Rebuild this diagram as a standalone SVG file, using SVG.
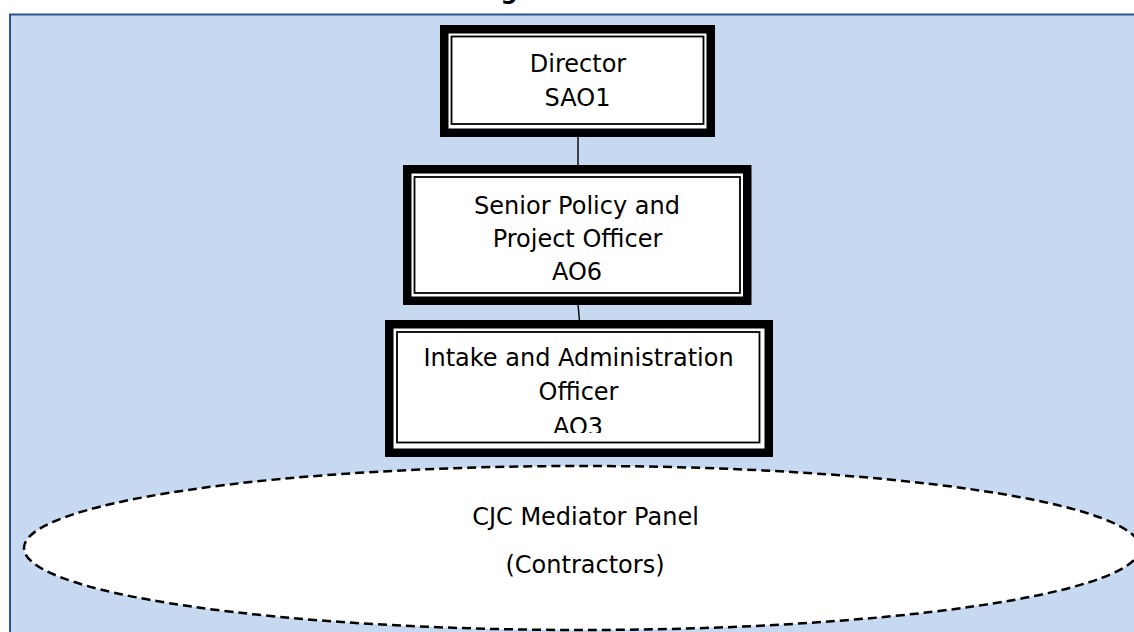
<svg xmlns="http://www.w3.org/2000/svg" width="1134" height="632" viewBox="0 0 1134 632">
  <style>
    .t { font-family: "DejaVu Sans", Verdana, sans-serif; font-size: 24px; fill: #000; text-anchor: middle; }
    .outer { fill: #fff; stroke: #000; stroke-width: 8.5; }
    .inner { fill: none; stroke: #000; stroke-width: 1.8; }
    .conn { stroke: #000; stroke-width: 1.4; fill: none; }
  </style>
  <defs>
    <clipPath id="clipIntake">
      <rect x="398" y="333" width="360" height="100"/>
    </clipPath>
  </defs>
  <rect width="1134" height="632" fill="#fff"/>
  <text x="509" y="-1" style="font-family: 'DejaVu Sans', Verdana, sans-serif; font-size: 24px; font-weight: bold; text-anchor: middle;">g</text>
  <g id="background">
    <rect x="10" y="14.5" width="1140" height="630" fill="#C6D9F1" stroke="#2F528F" stroke-width="2"/>
  </g>
  <g id="connectors">
    <line class="conn" x1="578" y1="136" x2="578" y2="166"/>
    <line class="conn" x1="578" y1="304" x2="579.5" y2="321"/>
  </g>
  <g id="panel">
    <ellipse cx="582" cy="548" rx="558" ry="82" fill="#fff" stroke="#000" stroke-width="2.5" stroke-dasharray="9 5"/>
    <text class="t" x="585.5" y="524.5">CJC Mediator Panel</text>
    <text class="t" x="585" y="573">(Contractors)</text>
  </g>
  <g id="director">
    <rect class="outer" x="444.25" y="29.25" width="266.5" height="103.5"/>
    <rect class="inner" x="451.5" y="36.5" width="252" height="87.5"/>
    <text class="t" x="578" y="72">Director</text>
    <text class="t" x="577.5" y="105.5">SAO1</text>
  </g>
  <g id="senior">
    <rect class="outer" x="407.25" y="169.25" width="340" height="131.5"/>
    <rect class="inner" x="414.5" y="177" width="325.5" height="116"/>
    <text class="t" x="577" y="213.5">Senior Policy and</text>
    <text class="t" x="577.5" y="246.5">Project Officer</text>
    <text class="t" x="577" y="279.5">AO6</text>
  </g>
  <g id="intake">
    <rect class="outer" x="389.25" y="324.25" width="379.5" height="128.5"/>
    <rect class="inner" x="397" y="332" width="362.5" height="110.5"/>
    <g clip-path="url(#clipIntake)">
      <text class="t" x="578.5" y="366">Intake and Administration</text>
      <text class="t" x="578.5" y="400">Officer</text>
      <text class="t" x="578" y="435">AO3</text>
    </g>
  </g>
</svg>
